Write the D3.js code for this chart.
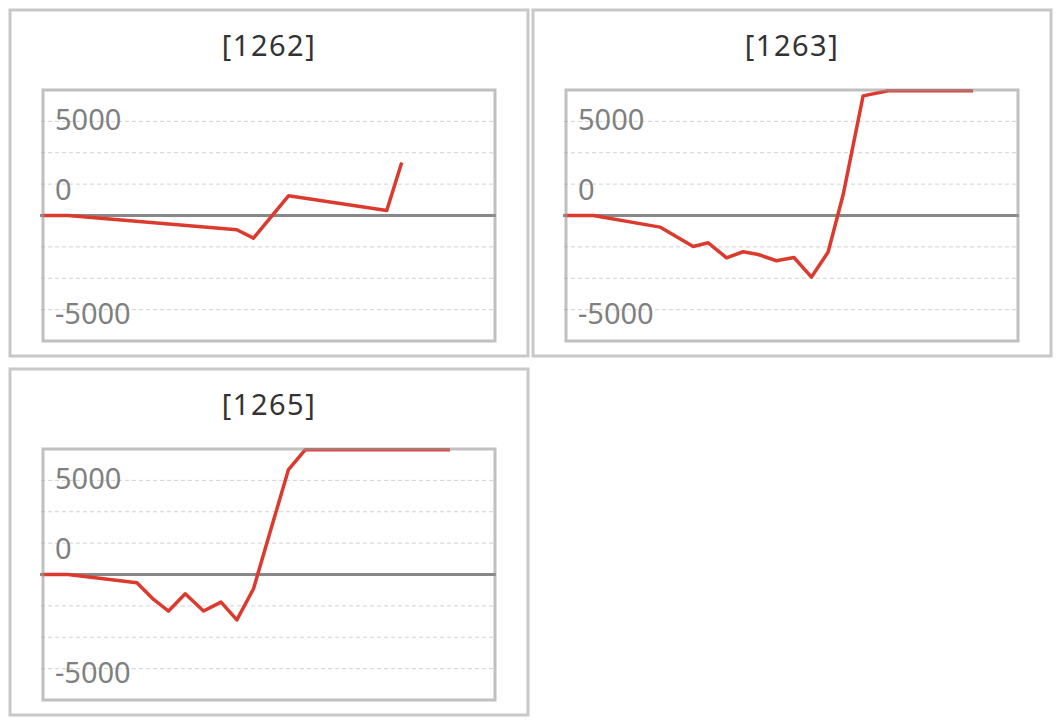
<!DOCTYPE html>
<html>
<head>
<meta charset="utf-8">
<script src="https://cdn.jsdelivr.net/npm/d3@7"></script>
<style>
  html, body { margin: 0; padding: 0; background: #fff; }
  svg { display: block; }
</style>
</head>
<body>
<svg id="chart" width="1063" height="726"></svg>
<script>
// ---- data ----
const titles = ["[1262]", "[1263]", "[1265]"];

const x1262 = [0, 1.56, 11.7, 12.7, 14.8, 20.7, 21.6];
const y1262 = [0, 0, -910, -1440, 1255, 320, 3380];

const x1263 = [0, 1.7, 5.7, 7.7, 8.6, 9.7, 10.7, 11.6, 12.7, 13.75, 14.8, 15.8, 16.7, 17.9, 19.4, 24.5];
const y1263 = [0, 0, -740, -1975, -1740, -2695, -2310, -2485, -2885, -2675, -3925, -2330, 1320, 7625, 7950, 7950];

const x1265 = [0, 1.56, 5.7, 6.7, 7.6, 8.6, 9.7, 10.75, 11.7, 12.7, 13.7, 14.8, 15.8, 24.5];
const y1265 = [0, 0, -530, -1590, -2330, -1230, -2330, -1760, -2890, -910, 2720, 6690, 7950, 7950];

const xDomain = [0, 27.2];
const yDomain = [-8000, 8000];
const gridValues = [6000, 4000, 2000, -2000, -4000, -6000];
const tickValues = [6100, 1650, -6250];
const tickLabels = ["5000", "0", "-5000"];

const seriesX = [x1262, x1263, x1265];
const seriesY = [y1262, y1263, y1265];

// ---- drawing ----
const svg = d3.select("#chart");
const font = "'Noto Sans', 'Noto Sans CJK JP', sans-serif";

const panelW = 518, panelH = 346, colStep = 523, rowStep = 359;
const plotL = 33, plotT = 80, plotW = 452, plotH = 251;

titles.forEach((title, i) => {
  const col = i % 2, row = Math.floor(i / 2);
  const px = 10 + col * colStep, py = 10 + row * rowStep;
  const g = svg.append("g").attr("transform", `translate(${px},${py})`);

  g.append("rect")
    .attr("x", 0).attr("y", 0)
    .attr("width", panelW).attr("height", panelH)
    .attr("fill", "#fff")
    .attr("stroke", "#c8c8c8").attr("stroke-width", 3);

  g.append("text")
    .attr("x", panelW / 2).attr("y", 46)
    .attr("text-anchor", "middle")
    .attr("font-family", font)
    .attr("font-size", 29)
    .attr("letter-spacing", 1.5)
    .attr("fill", "#333")
    .text(title);

  const x0 = plotL, y0 = plotT;
  const x = d3.scaleLinear().domain(xDomain).range([x0 - 1, x0 + plotW]);
  const y = d3.scaleLinear().domain(yDomain).range([y0 + plotH, y0]).clamp(true);

  // grid
  g.append("g").selectAll("line").data(gridValues).join("line")
    .attr("x1", x0 - 2).attr("x2", x0 + plotW)
    .attr("y1", d => y(d)).attr("y2", d => y(d))
    .attr("stroke", "#d2d2d2").attr("stroke-width", 1)
    .attr("stroke-dasharray", "4,3");

  // tick labels
  g.append("g").selectAll("text").data(tickValues).join("text")
    .attr("x", x0 + 12)
    .attr("y", d => y(d))
    .attr("dy", "0.36em")
    .attr("font-family", font)
    .attr("font-size", 29)
    .attr("fill", "#808080")
    .text((d, j) => tickLabels[j]);

  // zero line
  g.append("line")
    .attr("x1", x0 - 3).attr("x2", x0 + plotW + 1)
    .attr("y1", y(0)).attr("y2", y(0))
    .attr("stroke", "#888").attr("stroke-width", 3);

  // series line
  const pts = seriesX[i].map((v, k) => [v, seriesY[i][k]]);
  g.append("path")
    .datum(pts)
    .attr("fill", "none")
    .attr("stroke", "#dc3a2e")
    .attr("stroke-width", 3.5)
    .attr("stroke-linejoin", "round")
    .attr("d", d3.line().x(d => x(d[0])).y(d => y(d[1])));

  // plot border
  g.append("rect")
    .attr("x", x0).attr("y", y0)
    .attr("width", plotW).attr("height", plotH)
    .attr("fill", "none")
    .attr("stroke", "#9a9a9a").attr("stroke-opacity", 0.62)
    .attr("stroke-width", 3);
});
</script>
</body>
</html>
